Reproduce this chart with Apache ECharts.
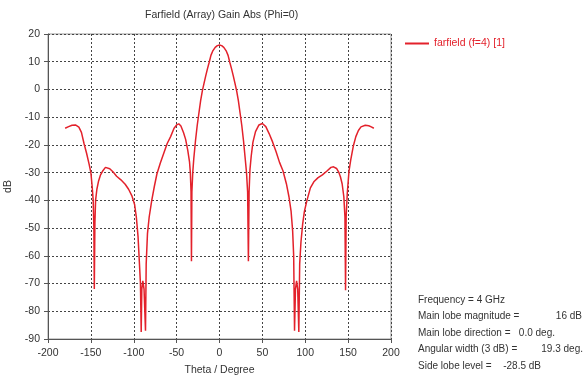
<!DOCTYPE html>
<html>
<head>
<meta charset="utf-8">
<script src="https://cdn.jsdelivr.net/npm/echarts@6/dist/echarts.min.js"></script>
<style>
  html, body { margin: 0; padding: 0; background: #fff; }
  #main { width: 584px; height: 378px; }
</style>
</head>
<body>
<div id="main"></div>
<script>
// theta (deg) / gain (dB)
var thetaDeg = [
  -180, -176, -172, -168, -164, -161, -158, -155, -152, -150, -148.5, -147.3, -146.5, -146, -145.3, -144.5,
  -143, -141, -139, -136, -133, -131, -128, -124, -120, -115, -110, -106, -102, -99, -97, -95,
  -93.5, -92.2, -91.3, -90.6, -89.4, -88, -86.3, -85.5, -84, -82, -79, -76, -73, -69, -65, -61,
  -57, -53, -50, -47.5, -45, -42, -39.5, -37, -35, -34, -33.2, -32.7, -32.2, -31.2, -30, -28,
  -26, -24, -22, -20, -18, -16, -14, -12, -10, -8, -5, -2.5, 0,
  2.5, 5, 8, 10, 12, 14, 16, 18, 20, 22, 24, 26, 28, 30, 31.5, 32.8,
  33.7, 34.5, 35.5, 37, 39, 42, 46, 50, 54, 58, 62, 66, 70, 74, 78, 81,
  83.5, 85.3, 86.5, 87.5, 88.6, 89.9, 91.2, 92.5, 93.5, 95, 97, 99, 102, 106, 110, 115,
  120, 125, 130, 133, 136.5, 139, 141, 143, 145, 146.3, 147, 147.7, 149, 151, 153, 156,
  159, 162, 165, 170, 174, 177, 180
];
var gainDb = [
  -14, -13.4, -12.9, -12.8, -13.6, -15.5, -19.5, -23, -27, -30, -35, -40, -50, -72, -48, -40,
  -36, -33, -31, -29.3, -28.1, -27.9, -28.6, -29.8, -31.3, -32.6, -34.2, -36, -38.5, -41.5, -46, -53,
  -62, -70, -87.5, -72, -69, -72, -87, -63, -52, -46, -40, -35, -30.5, -26.5, -23, -19.5,
  -17, -14, -12.8, -12.4, -13.2, -15.5, -18, -22, -26, -30, -37, -62, -37, -30, -25, -18.5,
  -13, -8.5, -4, -0.5, 2.3, 5, 7.5, 9.8, 12.3, 13.8, 15.2, 15.8, 16,
  15.8, 15.2, 13.8, 12.3, 9.8, 7.5, 5, 2.3, -0.5, -4, -8.5, -13, -18.5, -25, -30, -37,
  -62, -37, -29, -24, -19, -15.2, -12.8, -12.3, -13.4, -16, -19, -22.5, -26.3, -29.3, -34, -38.7,
  -44, -51, -60, -87, -72, -69, -72, -87.5, -63, -55, -48.5, -44, -40, -35.5, -33.3, -31.8,
  -30.8, -29.5, -28.1, -27.9, -28.5, -29.8, -31.5, -34, -38.7, -46, -72.4, -46, -37.5, -29.5, -25.5, -20.5,
  -17, -14.8, -13.5, -12.9, -13.1, -13.5, -14
];
var seriesName = 'farfield (f=4) [1]';
var infoLabels = ['Frequency = 4 GHz', 'Main lobe magnitude =', 'Main lobe direction =', 'Angular width (3 dB) =', 'Side lobe level ='];
var infoValues = ['', '16 dB', '0.0 deg.', '19.3 deg.', '-28.5 dB'];

var red = '#e3212b';
var font = 'Liberation Sans';

var pts = [];
thetaDeg.forEach(function (t, i) {
  pts.push([t, gainDb[i]]);
});

// info block at bottom right, values right-aligned
var valueRight = [0, 582, 555, 583, 541];
var graphics = [];
infoLabels.forEach(function (s, i) {
  graphics.push({
    type: 'text', x: 418, y: 295 + i * 16.5,
    style: { text: s, font: '10px "' + font + '"', fill: '#333' }
  });
  if (infoValues[i]) {
    graphics.push({
      type: 'text', x: valueRight[i], y: 295 + i * 16.5,
      style: { text: infoValues[i], font: '10px "' + font + '"', fill: '#333', align: 'right' }
    });
  }
});

var myChart = echarts.init(document.getElementById('main'));
myChart.setOption({
  animation: false,
  textStyle: { fontFamily: font },
  title: {
    text: 'Farfield (Array) Gain Abs (Phi=0)',
    left: 140, top: 5,
    textStyle: { fontSize: 10.5, fontWeight: 'normal', color: '#333', fontFamily: font }
  },
  legend: {
    data: [seriesName],
    left: 400, top: 33,
    icon: 'rect',
    itemWidth: 24, itemHeight: 2,
    itemGap: 6,
    textStyle: { color: red, fontSize: 10.5, fontFamily: font }
  },
  grid: {
    left: 48, right: 193, top: 34, bottom: 39,
    outerBoundsMode: 'none',
    containLabel: false,
    show: true, borderColor: '#999', borderWidth: 1
  },
  xAxis: {
    type: 'value',
    min: -200, max: 200, interval: 50,
    name: 'Theta / Degree',
    nameLocation: 'middle', nameGap: 26,
    nameTextStyle: { fontSize: 10.5, color: '#333' },
    axisLine: { show: true, onZero: false, lineStyle: { color: '#555' } },
    axisTick: { show: true, length: 4, lineStyle: { color: '#555' } },
    axisLabel: { fontSize: 10.5, color: '#333', margin: 9 },
    splitLine: { show: true, lineStyle: { color: '#444', type: [2, 2], width: 1 } }
  },
  yAxis: {
    type: 'value',
    min: -90, max: 20, interval: 10,
    name: 'dB',
    nameLocation: 'middle', nameGap: 34, nameRotate: 90,
    nameTextStyle: { fontSize: 10.5, color: '#333' },
    axisLine: { show: true, onZero: false, lineStyle: { color: '#555' } },
    axisTick: { show: true, length: 4, lineStyle: { color: '#555' } },
    axisLabel: { fontSize: 10.5, color: '#333', margin: 8 },
    splitLine: { show: true, lineStyle: { color: '#444', type: [2, 2], width: 1 } }
  },
  series: [{
    name: seriesName,
    type: 'line',
    data: pts,
    showSymbol: false,
    symbol: 'none',
    color: red,
    lineStyle: { color: red, width: 1.5 }
  }],
  graphic: graphics
});
</script>
</body>
</html>
